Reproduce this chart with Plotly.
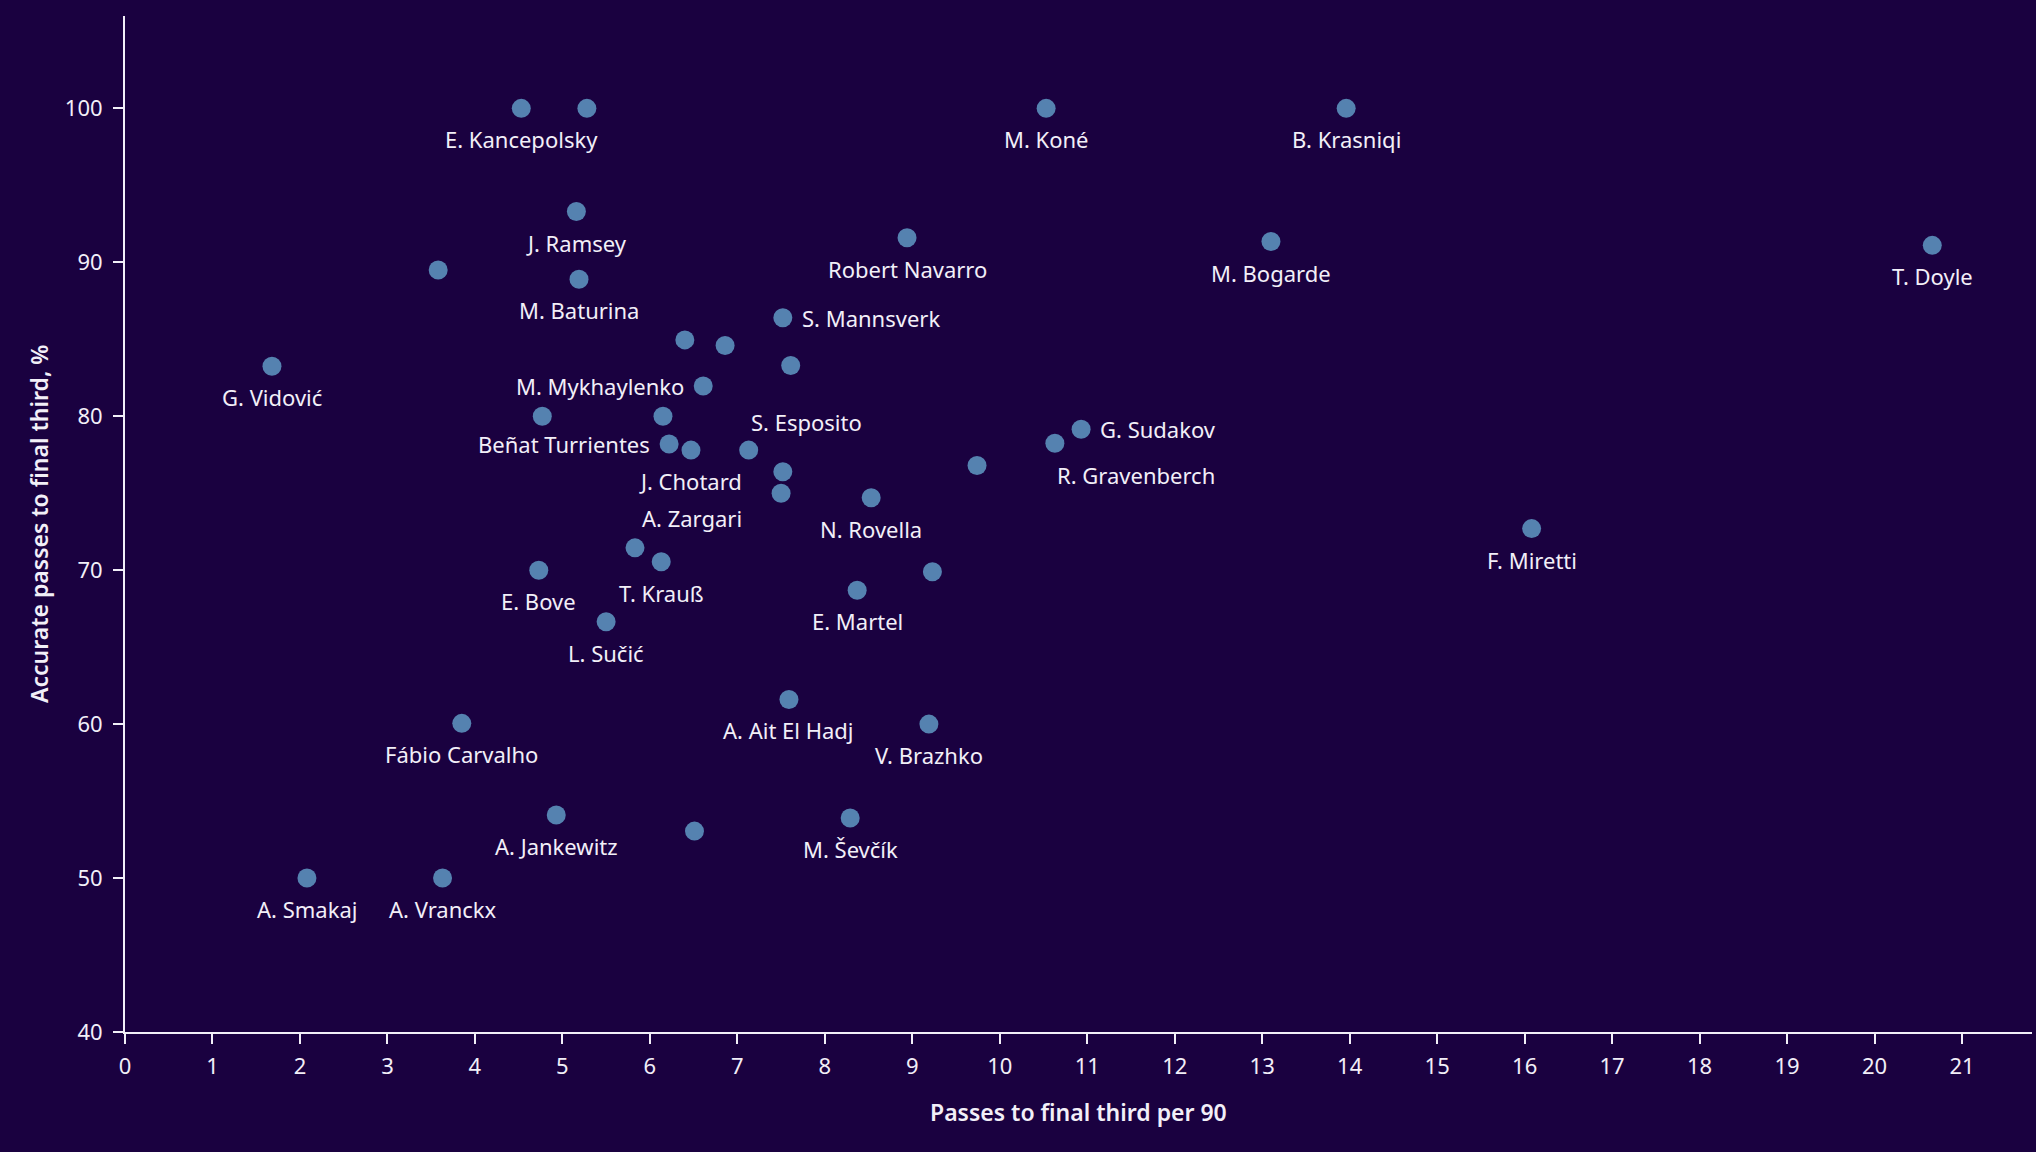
import plotly.graph_objects as go

# ---- data ----
players = [
    "E. Kancepolsky", "", "M. Koné", "B. Krasniqi", "J. Ramsey", "", "M. Baturina",
    "Robert Navarro", "M. Bogarde", "T. Doyle", "S. Mannsverk", "", "", "",
    "G. Vidović", "M. Mykhaylenko", "", "", "Beñat Turrientes", "J. Chotard",
    "S. Esposito", "", "A. Zargari", "", "N. Rovella", "R. Gravenberch",
    "G. Sudakov", "F. Miretti", "", "T. Krauß", "E. Bove", "", "E. Martel",
    "L. Sučić", "A. Ait El Hadj", "Fábio Carvalho", "V. Brazhko", "A. Jankewitz",
    "", "M. Ševčík", "A. Smakaj", "A. Vranckx",
]
passes_final_third_p90 = [
    4.53, 5.28, 10.53, 13.96, 5.16, 3.58, 5.19,
    8.94, 13.10, 20.66, 7.52, 6.40, 6.86, 7.61,
    1.68, 6.61, 4.77, 6.15, 6.22, 6.47,
    7.13, 7.52, 7.50, 9.74, 8.53, 10.63,
    10.93, 16.08, 5.83, 6.13, 4.73, 9.23, 8.37,
    5.50, 7.59, 3.85, 9.19, 4.93,
    6.51, 8.29, 2.08, 3.63,
]
accurate_pct = [
    100.0, 100.0, 100.0, 100.0, 93.3, 89.5, 88.9,
    91.6, 91.35, 91.1, 86.4, 84.96, 84.6, 83.3,
    83.25, 81.96, 80.0, 80.0, 78.2, 77.8,
    77.8, 76.4, 75.0, 76.8, 74.7, 78.25,
    79.15, 72.7, 71.45, 70.55, 70.0, 69.9, 68.7,
    66.65, 61.6, 60.05, 60.0, 54.1,
    53.05, 53.9, 50.0, 50.0,
]
x_ticks = list(range(0, 22))
y_ticks = [40, 50, 60, 70, 80, 90, 100]
x_title = "Passes to final third per 90"
y_title = "Accurate passes to final third, %"

# ---- label placement (style only) ----
label_place = {
    "S. Mannsverk": "right",
    "G. Sudakov": "right",
    "M. Mykhaylenko": "left",
    "Beñat Turrientes": "left",
    "R. Gravenberch": "below_right",
    "S. Esposito": "above_right",
    "A. Zargari": "below_left",
}

BG = "#1a0140"
FG = "#f2eff8"
DOT = "#5582b0"
FONT = "Noto Sans"

fig = go.Figure()
fig.add_trace(go.Scatter(
    x=passes_final_third_p90, y=accurate_pct, mode="markers",
    marker=dict(size=19, color=DOT, line=dict(width=0)),
    hoverinfo="skip",
))

for name, xv, yv in zip(players, passes_final_third_p90, accurate_pct):
    if not name:
        continue
    place = label_place.get(name, "below")
    kw = dict(xanchor="center", yanchor="middle", xshift=0, yshift=-31)
    if place == "right":
        kw = dict(xanchor="left", yanchor="middle", xshift=17, yshift=0)
    elif place == "left":
        kw = dict(xanchor="right", yanchor="middle", xshift=-17, yshift=0)
    elif place == "below_right":
        kw = dict(xanchor="left", yanchor="middle", xshift=0, yshift=-32)
    elif place == "above_right":
        kw = dict(xanchor="left", yanchor="middle", xshift=0, yshift=28)
    elif place == "below_left":
        kw = dict(xanchor="right", yanchor="middle", xshift=-37, yshift=-25)
    fig.add_annotation(x=xv, y=yv, text=name, showarrow=False,
                       font=dict(family=FONT, size=22, color=FG), **kw)

# axis titles
fig.add_annotation(xref="paper", yref="paper", x=0.5, y=0, yshift=-80,
                   text=x_title, showarrow=False, xanchor="center", yanchor="middle",
                   font=dict(family=FONT, size=23, color=FG, weight=600))
fig.add_annotation(xref="paper", yref="paper", x=0, y=0.5, xshift=-86,
                   text=y_title, showarrow=False, textangle=-90,
                   xanchor="center", yanchor="middle",
                   font=dict(family=FONT, size=23, color=FG, weight=600))

fig.update_layout(
    width=2036, height=1152,
    paper_bgcolor=BG, plot_bgcolor=BG,
    margin=dict(l=125, r=4, t=16, b=120),
    showlegend=False,
    font=dict(family=FONT, color=FG),
)
fig.update_xaxes(
    range=[0, 21.8], tickvals=x_ticks, ticktext=[str(v) for v in x_ticks],
    showgrid=False, zeroline=False, showline=True, linecolor=FG, linewidth=2,
    ticks="outside", ticklen=10, tickwidth=2, tickcolor=FG,
    tickfont=dict(family=FONT, size=22, color=FG), ticklabelstandoff=4,
)
fig.update_yaxes(
    range=[40, 106], tickvals=y_ticks, ticktext=[str(v) for v in y_ticks],
    showgrid=False, zeroline=False, showline=True, linecolor=FG, linewidth=2,
    ticks="outside", ticklen=10, tickwidth=2, tickcolor=FG,
    tickfont=dict(family=FONT, size=22, color=FG), ticklabelstandoff=6,
)

fig.write_html(
    "out.html",
    config={"displayModeBar": False},
    post_script=(
        "document.body.style.margin='0';"
        "document.body.style.padding='0';"
        "document.body.style.overflow='hidden';"
        f"document.body.style.background='{BG}';"
    ),
)
